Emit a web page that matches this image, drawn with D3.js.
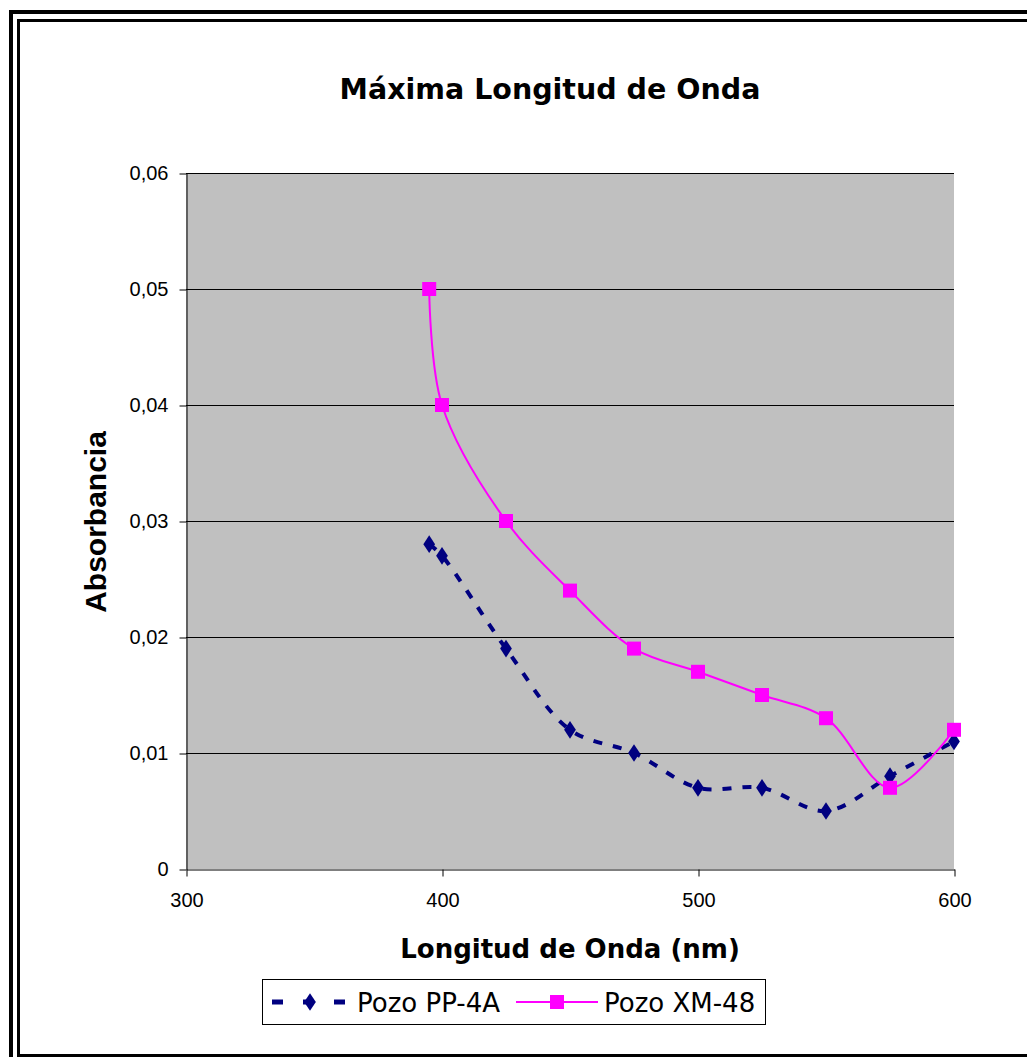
<!DOCTYPE html>
<html>
<head>
<meta charset="utf-8">
<script src="https://cdn.jsdelivr.net/npm/d3@7"></script>
<style>
  html, body { margin: 0; padding: 0; background: #fff; overflow: hidden; }
  svg { display: block; }
</style>
</head>
<body>
<script>
// Wavelength (nm) and absorbance readings for both wells
const wavelengths = [395, 400, 425, 450, 475, 500, 525, 550, 575, 600];
const pozoPP4A = [0.028, 0.027, 0.019, 0.012, 0.010, 0.007, 0.007, 0.005, 0.008, 0.011];
const pozoXM48 = [0.050, 0.040, 0.030, 0.024, 0.019, 0.017, 0.015, 0.013, 0.007, 0.012];
const seriesNames = ["Pozo PP-4A", "Pozo XM-48"];
const xTicks = [300, 400, 500, 600];
const yTicks = [0, 0.01, 0.02, 0.03, 0.04, 0.05, 0.06];

const W = 1027, H = 1057;
const svg = d3.select("body").append("svg").attr("width", W).attr("height", H);

// double frame around the chart
svg.append("rect").attr("x", 11).attr("y", 12).attr("width", 1100).attr("height", 1100)
  .attr("fill", "none").attr("stroke", "#000").attr("stroke-width", 4);
svg.append("rect").attr("x", 18.5).attr("y", 20.5).attr("width", 1100).attr("height", 1035)
  .attr("fill", "none").attr("stroke", "#000").attr("stroke-width", 3);

const x = d3.scaleLinear().domain([300, 600]).range([186, 954]);
const y = d3.scaleLinear().domain([0, 0.06]).range([869, 173]);

// plot background
svg.append("rect").attr("x", x(300)).attr("y", y(0.06))
  .attr("width", x(600) - x(300)).attr("height", y(0) - y(0.06))
  .attr("fill", "#c0c0c0");

// horizontal gridlines
svg.append("g").selectAll("line").data(yTicks.slice(1)).join("line")
  .attr("x1", x(300)).attr("x2", x(600))
  .attr("y1", d => Math.round(y(d)) + 0.5).attr("y2", d => Math.round(y(d)) + 0.5)
  .attr("stroke", "#000").attr("stroke-width", 1);

const fmt = d => d === 0 ? "0" : d3.format(".2f")(d).replace(".", ",");
const tickFont = "'Liberation Sans', Arial, sans-serif";
const titleFont = "'DejaVu Sans', Tahoma, sans-serif";

// y axis
const yAxis = svg.append("g").attr("transform", `translate(${x(300) + 0.5},0.5)`)
  .call(d3.axisLeft(y).tickValues(yTicks).tickFormat(fmt).tickSize(7).tickSizeOuter(0).tickPadding(11));
yAxis.select(".domain").attr("stroke", "#000");
yAxis.selectAll(".tick line").attr("stroke", "#000");
yAxis.selectAll("text").attr("font-family", tickFont).attr("font-size", 20).attr("fill", "#000");

// x axis
const xAxis = svg.append("g").attr("transform", `translate(0.5,${y(0) + 0.5})`)
  .call(d3.axisBottom(x).tickValues(xTicks).tickFormat(d3.format("d")).tickSize(7).tickSizeOuter(0).tickPadding(16));
xAxis.select(".domain").attr("stroke", "#000");
xAxis.selectAll(".tick line").attr("stroke", "#000");
xAxis.selectAll("text").attr("font-family", tickFont).attr("font-size", 20).attr("fill", "#000");

// titles
svg.append("text").attr("x", 550).attr("y", 99).attr("text-anchor", "middle")
  .attr("font-family", titleFont).attr("font-weight", "bold").attr("font-size", 28.5)
  .text("Máxima Longitud de Onda");
svg.append("text").attr("x", 570).attr("y", 958).attr("text-anchor", "middle")
  .attr("font-family", titleFont).attr("font-weight", "bold").attr("font-size", 26)
  .text("Longitud de Onda (nm)");
svg.append("text").attr("transform", "translate(106,522) rotate(-90)").attr("text-anchor", "middle")
  .attr("font-family", tickFont).attr("font-weight", "bold").attr("font-size", 30)
  .text("Absorbancia");

// series
const line = d3.line().x(d => x(d[0])).y(d => y(d[1])).curve(d3.curveCatmullRom.alpha(0.5));
const ppData = wavelengths.map((w, i) => [w, pozoPP4A[i]]);
const xmData = wavelengths.map((w, i) => [w, pozoXM48[i]]);

const navy = "#000080", magenta = "#ff00ff";
const diamond = d3.symbol().type(d3.symbolDiamond).size(90);

svg.append("path").datum(ppData).attr("d", line)
  .attr("fill", "none").attr("stroke", navy).attr("stroke-width", 4)
  .attr("stroke-dasharray", "9,11");
svg.append("g").selectAll("path").data(ppData).join("path")
  .attr("transform", d => `translate(${x(d[0])},${y(d[1])}) scale(1.15,1)`)
  .attr("d", diamond).attr("fill", navy);

svg.append("path").datum(xmData).attr("d", line)
  .attr("fill", "none").attr("stroke", magenta).attr("stroke-width", 2);
svg.append("g").selectAll("rect").data(xmData).join("rect")
  .attr("x", d => x(d[0]) - 7).attr("y", d => y(d[1]) - 7)
  .attr("width", 14).attr("height", 14).attr("fill", magenta);

// legend
const lg = svg.append("g");
lg.append("rect").attr("x", 262.5).attr("y", 979.5).attr("width", 503).attr("height", 45)
  .attr("fill", "#fff").attr("stroke", "#000").attr("stroke-width", 1);
const ly = 1002;
lg.append("line").attr("x1", 272).attr("x2", 346).attr("y1", ly).attr("y2", ly)
  .attr("stroke", navy).attr("stroke-width", 5).attr("stroke-dasharray", "11,20");
lg.append("path").attr("transform", `translate(310,${ly}) scale(1.15,1)`).attr("d", diamond).attr("fill", navy);
lg.append("text").attr("x", 357).attr("y", ly + 10).attr("font-family", titleFont).attr("font-size", 26)
  .text(seriesNames[0]);
lg.append("line").attr("x1", 516).attr("x2", 598).attr("y1", ly).attr("y2", ly)
  .attr("stroke", magenta).attr("stroke-width", 2);
lg.append("rect").attr("x", 550).attr("y", ly - 7).attr("width", 14).attr("height", 14).attr("fill", magenta);
lg.append("text").attr("x", 604).attr("y", ly + 10).attr("font-family", titleFont).attr("font-size", 26)
  .text(seriesNames[1]);
</script>
</body>
</html>
